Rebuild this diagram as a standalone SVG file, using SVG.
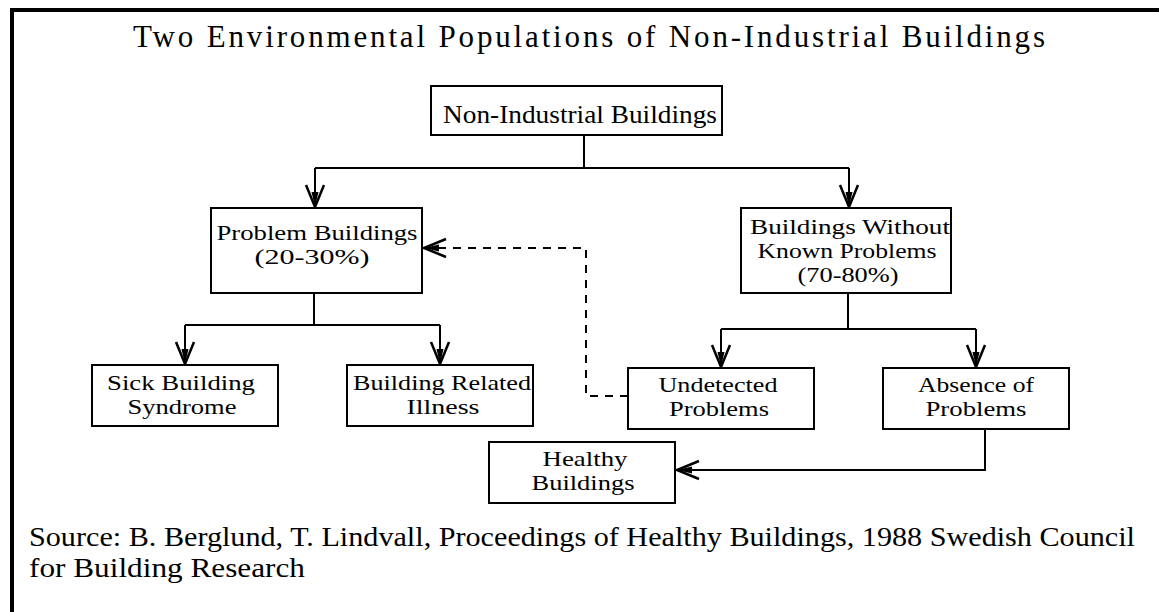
<svg xmlns="http://www.w3.org/2000/svg" width="1159" height="612" viewBox="0 0 1159 612">
<style>
.box{fill:#fff;stroke:#000;stroke-width:2}
.t{font-family:"Liberation Serif",serif;font-size:21px;fill:#000;text-anchor:middle}
.ln{fill:none;stroke:#000;stroke-width:2}
.dash{fill:none;stroke:#000;stroke-width:2;stroke-dasharray:8 7}
</style>
<defs>
<marker id="arr" markerUnits="userSpaceOnUse" markerWidth="30" markerHeight="24" viewBox="-24 -12 28 24" refX="0" refY="0" orient="auto">
<path d="M-22,-9 L0,0 L-22,9" fill="none" stroke="#000" stroke-width="2.5"/>
<path d="M-15,-3.5 L0,0 L-15,3.5 Z" fill="#000"/>
</marker>
</defs>
<rect width="1159" height="612" fill="#fff"/>
<path d="M12,612 V10 H1159" fill="none" stroke="#000" stroke-width="4"/>
<text x="133" y="47" font-family="Liberation Serif, serif" font-size="31" textLength="912" lengthAdjust="spacing">Two Environmental Populations of Non-Industrial Buildings</text>

<g id="connectors">
<path class="ln" d="M584,135 V168"/>
<path class="ln" d="M315,168 H849"/>
<path class="ln" d="M315,168 V207" marker-end="url(#arr)"/>
<path class="ln" d="M849,168 V207" marker-end="url(#arr)"/>
<path class="ln" d="M314,293 V325"/>
<path class="ln" d="M185,325 H440"/>
<path class="ln" d="M185,325 V364" marker-end="url(#arr)"/>
<path class="ln" d="M440,325 V364" marker-end="url(#arr)"/>
<path class="ln" d="M848,293 V329"/>
<path class="ln" d="M721,329 H976"/>
<path class="ln" d="M721,329 V367" marker-end="url(#arr)"/>
<path class="ln" d="M976,329 V367" marker-end="url(#arr)"/>
<path class="ln" d="M985,430 V470 H677" marker-end="url(#arr)"/>
<path class="dash" d="M628,396 H586 V248 H424" marker-end="url(#arr)"/>
</g>

<g id="non-industrial">
<rect class="box" x="431" y="86" width="291" height="49"/>
<text class="t" x="580" y="123" style="font-size:25px" textLength="274" lengthAdjust="spacingAndGlyphs">Non-Industrial Buildings</text>
</g>
<g id="problem">
<rect class="box" x="211" y="208" width="211" height="85"/>
<text class="t" x="317" y="240" textLength="201" lengthAdjust="spacingAndGlyphs">Problem Buildings</text>
<text class="t" x="312" y="264" textLength="115" lengthAdjust="spacingAndGlyphs">(20-30%)</text>
</g>
<g id="without">
<rect class="box" x="741" y="208" width="210" height="85"/>
<text class="t" x="850" y="234" textLength="200" lengthAdjust="spacingAndGlyphs">Buildings Without</text>
<text class="t" x="847" y="258" textLength="179" lengthAdjust="spacingAndGlyphs">Known Problems</text>
<text class="t" x="848" y="282" textLength="101" lengthAdjust="spacingAndGlyphs">(70-80%)</text>
</g>
<g id="sick">
<rect class="box" x="92" y="365" width="186" height="61"/>
<text class="t" x="181" y="390" textLength="148" lengthAdjust="spacingAndGlyphs">Sick Building</text>
<text class="t" x="182" y="414" textLength="109" lengthAdjust="spacingAndGlyphs">Syndrome</text>
</g>
<g id="related">
<rect class="box" x="347" y="365" width="186" height="61"/>
<text class="t" x="442" y="390" textLength="178" lengthAdjust="spacingAndGlyphs">Building Related</text>
<text class="t" x="443" y="414" textLength="73" lengthAdjust="spacingAndGlyphs">Illness</text>
</g>
<g id="undetected">
<rect class="box" x="628" y="368" width="186" height="61"/>
<text class="t" x="718" y="392" textLength="119" lengthAdjust="spacingAndGlyphs">Undetected</text>
<text class="t" x="719" y="416" textLength="100" lengthAdjust="spacingAndGlyphs">Problems</text>
</g>
<g id="absence">
<rect class="box" x="883" y="368" width="186" height="61"/>
<text class="t" x="976" y="392" textLength="116" lengthAdjust="spacingAndGlyphs">Absence of</text>
<text class="t" x="976" y="416" textLength="101" lengthAdjust="spacingAndGlyphs">Problems</text>
</g>
<g id="healthy">
<rect class="box" x="489" y="442" width="186" height="61"/>
<text class="t" x="585" y="466" textLength="85" lengthAdjust="spacingAndGlyphs">Healthy</text>
<text class="t" x="583" y="490" textLength="103" lengthAdjust="spacingAndGlyphs">Buildings</text>
</g>
<g id="source">
<text x="29" y="546" font-family="Liberation Serif, serif" font-size="27" textLength="1106" lengthAdjust="spacingAndGlyphs">Source: B. Berglund, T. Lindvall, Proceedings of Healthy Buildings, 1988 Swedish Council</text>
<text x="29" y="577" font-family="Liberation Serif, serif" font-size="27" textLength="276" lengthAdjust="spacingAndGlyphs">for Building Research</text>
</g>
</svg>
